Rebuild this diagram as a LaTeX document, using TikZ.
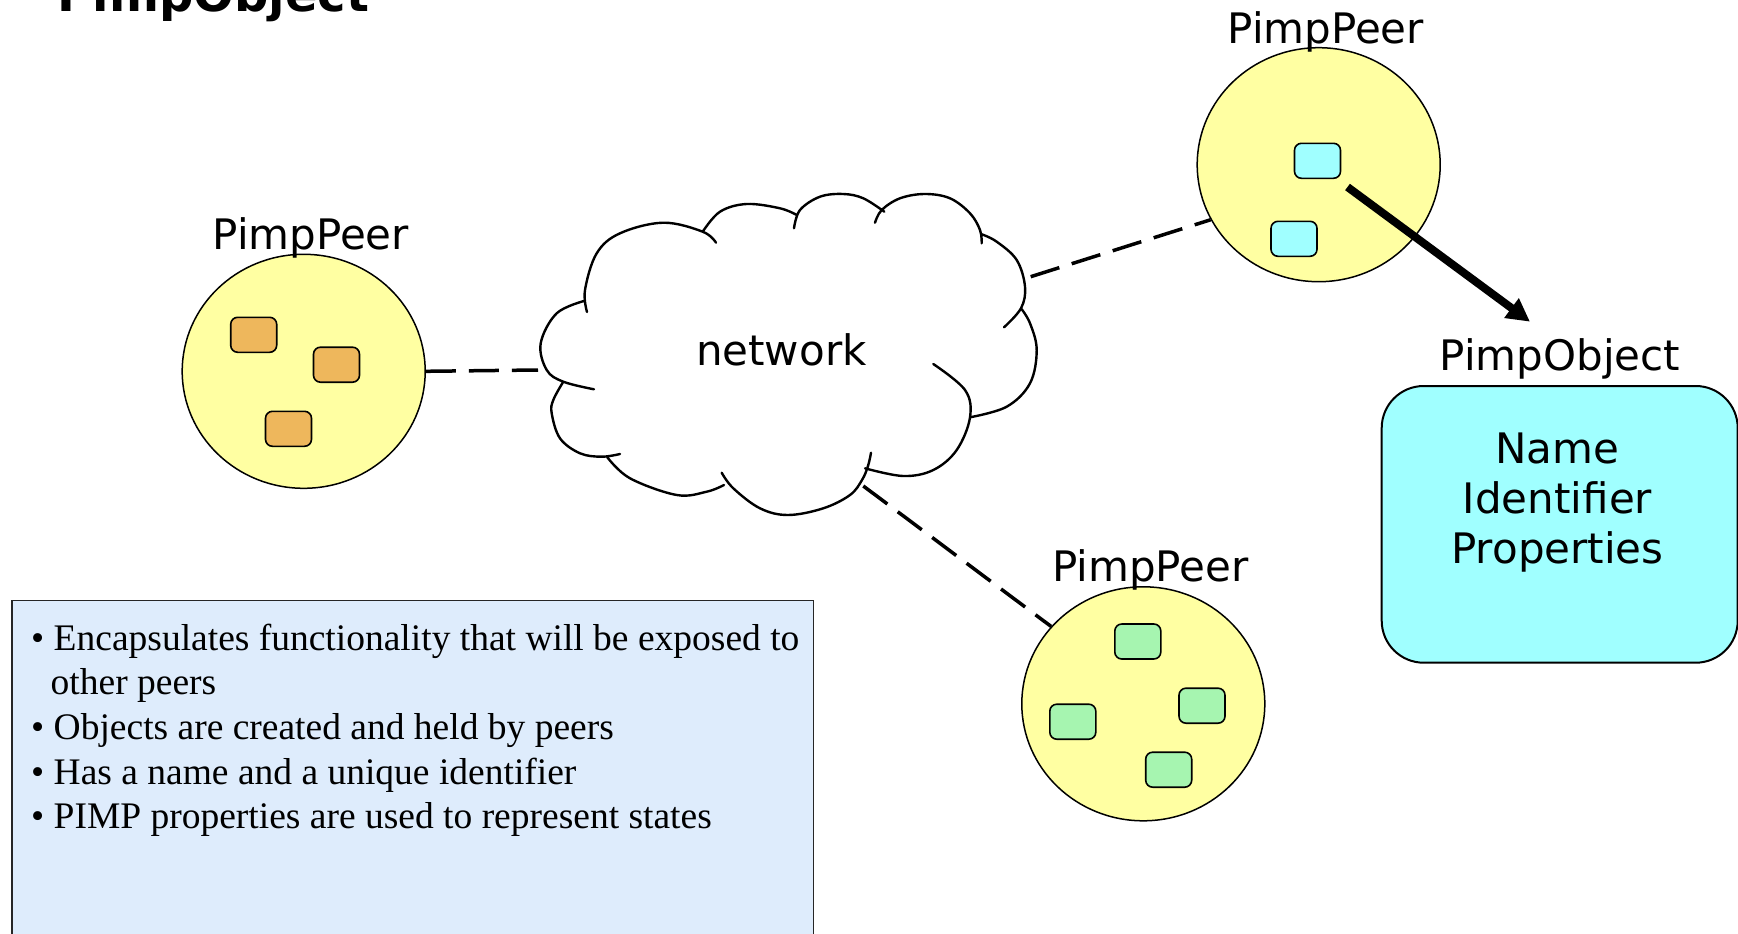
\documentclass[tikz,border=0pt]{standalone}
\usepackage{fontspec}
\setmainfont{DejaVu Sans}
\newfontfamily\notefont{Liberation Serif}
\usetikzlibrary{shapes.geometric,arrows.meta}

\definecolor{peeryellow}{RGB}{255,255,162}
\definecolor{chiporange}{RGB}{238,183,92}
\definecolor{chipcyan}{RGB}{160,255,255}
\definecolor{chipgreen}{RGB}{166,245,176}
\definecolor{notebg}{RGB}{222,236,252}

\begin{document}
\begin{tikzpicture}[x=1pt,y=-1pt,
  peerdisc/.style={ellipse, draw, line width=1.5pt, fill=peeryellow,
    minimum width=243pt, minimum height=234pt, inner sep=0pt},
  objchip/.style={rectangle, rounded corners=7pt, draw, line width=1.6pt,
    minimum width=46pt, minimum height=35pt, inner sep=0pt},
  titletext/.style={font=\fontsize{42}{50}\selectfont, inner sep=0pt, anchor=base},
  notetext/.style={font=\notefont\fontsize{37.5}{44}\selectfont, inner sep=0pt, anchor=base west},
  dashlink/.style={line width=3.5pt, dash pattern=on 30pt off 13pt},
  cloudstroke/.style={line width=2.4pt, line cap=round, line join=round},
]
\useasboundingbox (0,0) rectangle (1738,934);

% heading, cut by the top edge
\node[font=\bfseries\fontsize{48}{48}\selectfont, inner sep=0pt, anchor=base west]
  (heading) at (57.5,11.7) {PimpObject};

% notes panel
\node[draw=black!85, line width=1.5pt, fill=notebg, rectangle, inner sep=0pt,
  minimum width=801.5pt, minimum height=345pt, anchor=north west] (notes) at (11,599.5) {};
\node[notetext] (n1) at (31,650) {• Encapsulates functionality that will be exposed to};
\node[notetext] (n2) at (50.5,694.6) {other peers};
\node[notetext] (n3) at (31,739.3) {• Objects are created and held by peers};
\node[notetext] (n4) at (31,784) {• Has a name and a unique identifier};
\node[notetext] (n5) at (31,828.6) {• PIMP properties are used to represent states};

% the network cloud, bump by bump
\draw[cloudstroke]
  plot[smooth, tension=0.6] coordinates {(587,312) (585,290) (596.7,253.3) (620,233.3) (663.3,222.7) (702.7,231.7) (716,242.7)}
  plot[smooth, tension=0.6] coordinates {(585,300.7) (556.7,313.3) (540.7,343.3) (546.7,370) (563.3,381.7) (594,389.3)}
  plot[smooth, tension=0.6] coordinates {(563.3,381.7) (553.3,400) (551.7,413.3) (560,438.3) (580,453.3) (601.7,456.7) (620,454)}
  plot[smooth, tension=0.6] coordinates {(607.3,457.3) (630,478.3) (676.7,495) (706.7,491.7) (724,485)}
  plot[smooth, tension=0.6] coordinates {(721.7,472.7) (733.3,488.3) (760,508.3) (788,515) (823.3,508.3) (850,495) (862,480) (868,466) (871,452.7)}
  plot[smooth, tension=0.6] coordinates {(865,468.3) (903.3,476) (933.3,470) (956.7,450) (970,417.3) (965,390) (933.3,364)}
  plot[smooth, tension=0.6] coordinates {(970,417.3) (1006.7,406.7) (1030,383.3) (1036.7,350) (1030,323.3) (1021,308.3)}
  plot[smooth, tension=0.6] coordinates {(981.7,234.3) (996.7,241.7) (1016.7,260) (1025,286.7) (1021,308.3) (1004,327.3)}
  plot[smooth, tension=0.6] coordinates {(981.7,243.3) (980,230) (970,213.3) (950,198.3) (925,194) (900,198.3) (881.7,210) (875,222.7)}
  plot[smooth, tension=0.6] coordinates {(884.3,211.7) (863.3,198.3) (843.3,194) (820,196.7) (800,210) (794,228.3)}
  plot[smooth, tension=0.6] coordinates {(796.7,215) (780,208.3) (746.7,204) (720,211.7) (702.7,231.7)};
\node[titletext] (net) at (781.3,365) {network};

% attachment points on the cloud
\coordinate (cloudW) at (538,370);
\coordinate (cloudNE) at (1030.7,276.7);
\coordinate (cloudS) at (863.3,486);

% peers
\node[peerdisc] (peerL) at (303.7,371.3) {};
\node[peerdisc] (peerT) at (1318.7,164.7) {};
\node[peerdisc] (peerB) at (1143.3,703.8) {};

\node[titletext] (peerLtitle) at (310.8,249.3) {PimpPeer};
\node[titletext] (peerTtitle) at (1325.8,43.3) {PimpPeer};
\node[titletext] (peerBtitle) at (1150.5,581.7) {PimpPeer};

% dashed network links
\draw[dashlink] (peerL.east) -- (cloudW);
\draw[dashlink] (cloudNE) -- (peerT.207);
\draw[dashlink] (cloudS) -- (peerB.140);

% objects held by the peers
\node[objchip, fill=chiporange] (oL1) at (253.7,334.8) {};
\node[objchip, fill=chiporange] (oL2) at (336.5,364.7) {};
\node[objchip, fill=chiporange] (oL3) at (288.5,428.8) {};

\node[objchip, fill=chipcyan] (oT1) at (1317.5,160.8) {};
\node[objchip, fill=chipcyan] (oT2) at (1294,238.8) {};

\node[objchip, fill=chipgreen] (oB1) at (1137.8,641.5) {};
\node[objchip, fill=chipgreen] (oB2) at (1202,705.7) {};
\node[objchip, fill=chipgreen] (oB3) at (1072.8,721.7) {};
\node[objchip, fill=chipgreen] (oB4) at (1168.7,769.7) {};

% PimpObject detail
\node[rectangle, draw, line width=2pt, rounded corners=42pt, fill=chipcyan, inner sep=0pt,
  minimum width=356pt, minimum height=276.7pt, anchor=north west] (pobj) at (1380.7,385) {};
\node[titletext] (pobjtitle) at (1560,370) {PimpObject};
\node[font=\fontsize{42}{50}\selectfont, align=center, inner sep=0pt] (pobjtext) at (1557.5,503)
  {Name\\Identifier\\Properties};

% zoom-in arrow from an object to its detail
\coordinate (arrowfrom) at (1347.5,187);
\coordinate (arrowto) at (1530,321.7);
\draw[line width=8pt, -{Triangle[length=23pt,width=23pt]}] (arrowfrom) -- (arrowto);
\end{tikzpicture}
\end{document}
